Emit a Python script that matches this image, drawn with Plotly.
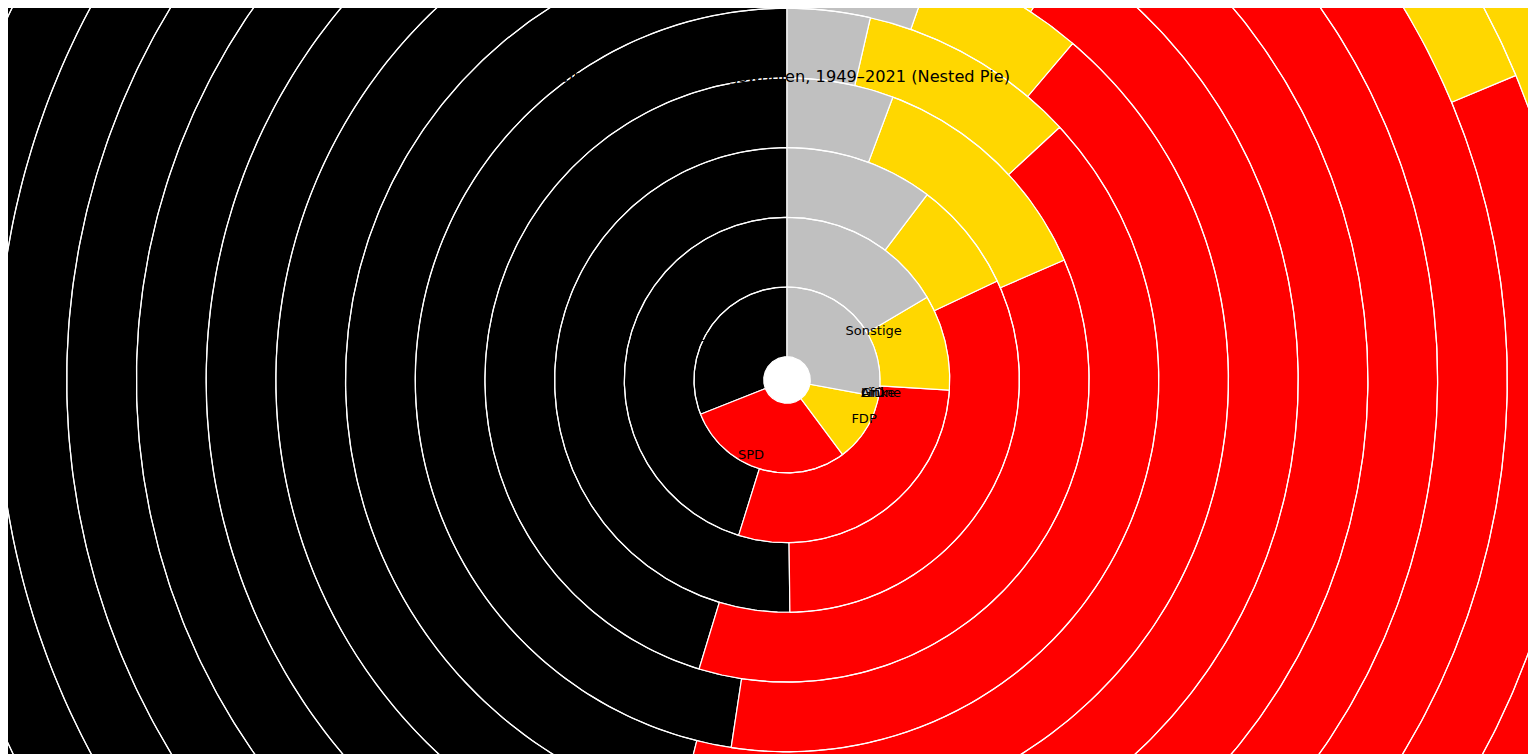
import numpy as np
import plotly.graph_objects as go

# Bundestagswahlen, Zweitstimmen in Prozent (1949: Stimmen)
jahre = [1949, 1953, 1957, 1961, 1965, 1969, 1972, 1976, 1980, 1983,
         1987, 1990, 1994, 1998, 2002, 2005, 2009, 2013, 2017, 2021]

cdu_csu = [31.0, 45.2, 50.2, 45.3, 47.6, 46.1, 44.9, 48.6, 44.5, 48.8,
           44.3, 43.8, 41.4, 35.1, 38.5, 35.2, 33.8, 41.5, 32.9, 24.1]
spd = [29.2, 28.8, 31.8, 36.2, 39.3, 42.7, 45.8, 42.6, 42.9, 38.2,
       37.0, 33.5, 36.4, 40.9, 38.5, 34.2, 23.0, 25.7, 20.5, 25.7]
fdp = [11.9, 9.5, 7.7, 12.8, 9.5, 5.8, 8.4, 7.9, 10.6, 7.0,
       9.1, 11.0, 6.9, 6.2, 7.4, 9.8, 14.6, 4.8, 10.7, 11.5]
gruene = [0, 0, 0, 0, 0, 0, 0, 0, 1.5, 5.6,
          8.3, 5.0, 7.3, 6.7, 8.6, 8.1, 10.7, 8.4, 8.9, 14.8]
afd = [0, 0, 0, 0, 0, 0, 0, 0, 0, 0,
       0, 0, 0, 0, 0, 0, 0, 4.7, 12.6, 10.3]
linke = [0, 0, 0, 0, 0, 0, 0, 0, 0, 0,
         0, 2.4, 4.4, 5.1, 4.0, 8.7, 11.9, 8.6, 9.2, 4.9]
sonstige = [27.9, 16.5, 10.3, 5.7, 3.6, 5.4, 0.9, 0.9, 0.5, 0.4,
            1.3, 4.3, 3.6, 6.0, 3.0, 4.0, 6.0, 6.3, 5.2, 8.7]

parteien = ["CDU/CSU", "SPD", "FDP", "Grüne", "AfD", "Linke", "Sonstige"]
reihen = [cdu_csu, spd, fdp, gruene, afd, linke, sonstige]
farben = ["#000000", "#FF0000", "#FFD700", "#1AA037", "#009EE0", "#BE3075", "#C0C0C0"]

# geometrie in pixeln (seite hat 8px rand)
W, H = 1528, 746
MX, MY = 779, 372          # mittelpunkt in der figur
LOCH = 23.3                # radius des weissen lochs
BREITE = 69.7              # breite eines rings
LABEL_R = 72               # radius fuer die beschriftung (1949)
FS = 13


def sektor(r0, r1, a0, a1):
    # a0, a1 in grad, im uhrzeigersinn ab 12 uhr
    n = max(2, int(abs(a1 - a0) / 0.5) + 2)
    t = np.radians(np.linspace(a0, a1, n))
    xs = list(r1 * np.sin(t)) + list(r0 * np.sin(t[::-1]))
    ys = list(r1 * np.cos(t)) + list(r0 * np.cos(t[::-1]))
    return xs + [xs[0], None], ys + [ys[0], None]


fig = go.Figure()

for j, partei in enumerate(parteien):
    px, py = [], []
    for k, jahr in enumerate(jahre):
        werte = [r[k] for r in reihen]
        summe = sum(werte)
        vorher = sum(werte[:j])
        if werte[j] <= 0:
            continue
        a0 = -360 * vorher / summe
        a1 = -360 * (vorher + werte[j]) / summe
        r0 = LOCH + k * BREITE
        xs, ys = sektor(r0, r0 + BREITE, a0, a1)
        px += xs
        py += ys
    fig.add_trace(go.Scatter(
        x=px, y=py, mode='lines', fill='toself', fillcolor=farben[j],
        line=dict(color='white', width=1.2), name=partei, hoverinfo='name'))

# beschriftung des innersten rings (1949), aussen an den segmenten
werte = [r[0] for r in reihen]
summe = sum(werte)
tx, ty, tpos = [], [], []
for j, partei in enumerate(parteien):
    mitte = np.radians(-360 * (sum(werte[:j]) + werte[j] / 2) / summe)
    x = LABEL_R * np.sin(mitte)
    ys = -LABEL_R * np.cos(mitte)      # bildschirm: y nach unten
    dy = FS / 2 if ys >= 0 else -FS / 2
    yc = ys + dy / (1 + x * x / (ys * ys)) if ys != 0 else ys
    tx.append(x + (abs(dy) / 2 if x >= 0 else -abs(dy) / 2))
    ty.append(-yc)
    tpos.append('middle right' if x >= 0 else 'middle left')

fig.add_trace(go.Scatter(
    x=tx, y=ty, mode='text', text=parteien, textposition=tpos,
    textfont=dict(family='DejaVu Sans', size=FS, color='black'),
    hoverinfo='skip'))

fig.update_layout(
    title=dict(text='Ergebnisse der Bundestagswahlen, 1949–2021 (Nested Pie)',
               x=760 / W, xanchor='center', y=1 - 68 / H, yanchor='middle',
               font=dict(family='DejaVu Sans', size=16.2, color='black')),
    font=dict(family='DejaVu Sans', color='black'),
    width=W, height=H,
    margin=dict(l=0, r=0, t=0, b=0),
    showlegend=False,
    paper_bgcolor='white', plot_bgcolor='white',
    xaxis=dict(range=[-MX, W - MX], visible=False, fixedrange=True),
    yaxis=dict(range=[-(H - MY), MY], visible=False, fixedrange=True),
)

fig.write_html("out.html")
